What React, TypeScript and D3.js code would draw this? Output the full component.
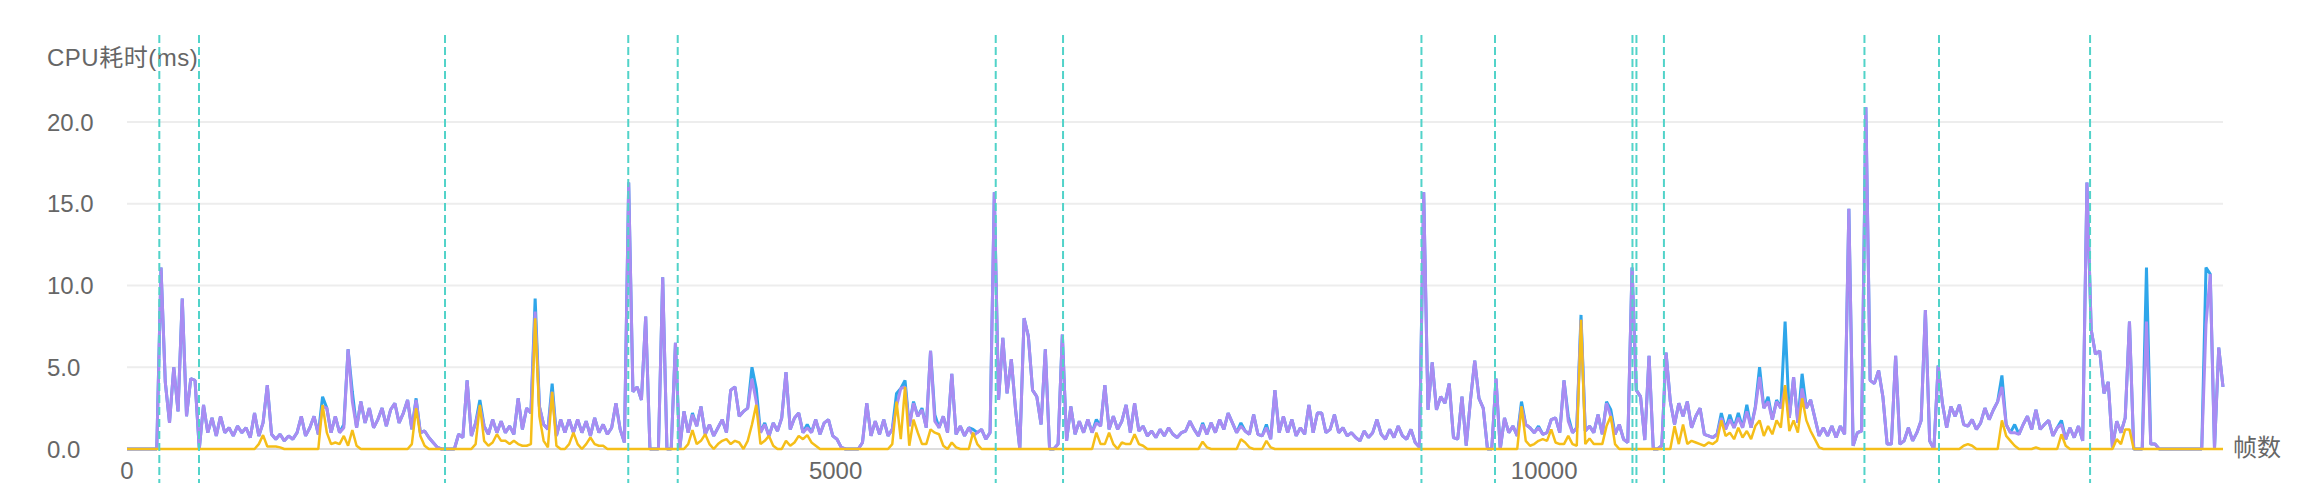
import React from 'react';
import * as d3 from 'd3';

// frame step between consecutive samples
const FRAME_STEP = 30;

// purple series (CPU time, ms), one value every FRAME_STEP frames
const purpleValues: number[] = [
  0, 0, 0, 0, 0, 0, 0, 0, 11.1, 4.1,
  1.6, 5.0, 2.3, 9.2, 2.0, 4.3, 4.2, 0, 2.7, 1.0,
  1.9, 0.8, 2.0, 1.0, 1.3, 0.8, 1.4, 1.0, 1.3, 0.7,
  2.2, 0.8, 1.6, 3.9, 0.9, 0.6, 0.9, 0.5, 0.8, 0.6,
  1.0, 2.0, 0.8, 1.3, 2.0, 0.9, 2.6, 2.5, 1.0, 2.0,
  1.0, 1.3, 6.1, 2.9, 1.3, 2.9, 1.6, 2.5, 1.3, 1.8,
  2.5, 1.4, 2.4, 2.8, 1.6, 2.2, 3.0, 1.2, 3.0, 1.0,
  1.1, 0.7, 0.4, 0.1, 0, 0, 0, 0, 0.9, 0.7,
  4.2, 0.8, 1.6, 2.6, 1.4, 0.9, 1.8, 1.0, 1.7, 1.0,
  1.4, 0.9, 3.1, 1.2, 2.5, 2.2, 8.4, 2.6, 1.5, 1.2,
  3.5, 0.8, 1.8, 1.0, 1.8, 1.0, 1.8, 1.0, 1.7, 0.8,
  1.9, 1.0, 1.5, 0.9, 1.3, 2.8, 1.2, 0.4, 16.3, 3.5,
  3.8, 3.0, 8.1, 0, 0, 0, 10.5, 0, 0, 6.5,
  0, 2.3, 1.0, 2.1, 1.4, 2.6, 0.9, 1.5, 0.8, 1.3,
  1.8, 1.0, 3.6, 3.8, 2.0, 2.3, 2.5, 4.3, 2.9, 1.0,
  1.5, 0.8, 1.6, 1.1, 1.9, 4.7, 1.2, 1.9, 2.2, 1.0,
  1.3, 1.0, 1.8, 0.9, 1.6, 1.8, 0.8, 0.6, 0.1, 0,
  0, 0, 0, 0.4, 2.8, 0.8, 1.7, 0.9, 1.8, 0.8,
  1.2, 2.6, 3.7, 3.8, 1.4, 2.8, 2.0, 2.4, 1.3, 6.0,
  1.7, 1.3, 2.0, 1.0, 4.6, 0.9, 1.4, 0.8, 1.3, 0.8,
  1.0, 1.2, 0.6, 1.0, 15.7, 3.0, 6.8, 3.4, 5.5, 2.4,
  0, 8.0, 6.9, 3.6, 3.2, 1.5, 6.1, 0, 0, 0.3,
  7.0, 0.5, 2.6, 0.9, 1.7, 1.0, 1.8, 1.0, 1.6, 1.4,
  3.9, 1.2, 2.0, 1.2, 1.7, 2.7, 1.0, 2.8, 1.1, 1.4,
  0.8, 1.1, 0.7, 1.2, 0.8, 1.3, 0.9, 0.7, 1.0, 1.1,
  1.7, 1.2, 0.8, 1.5, 0.9, 1.6, 1.0, 1.8, 1.2, 2.2,
  1.6, 1.0, 1.4, 1.1, 0.9, 2.1, 0.9, 0.8, 1.3, 0.6,
  3.6, 1.0, 2.0, 1.0, 1.8, 0.8, 1.3, 0.9, 2.7, 1.0,
  2.2, 2.2, 1.0, 1.2, 2.1, 1.0, 1.3, 0.8, 1.0, 0.7,
  0.5, 1.1, 0.7, 1.0, 1.8, 0.9, 0.6, 1.2, 0.7, 1.4,
  0.8, 0.6, 1.2, 0.4, 0.1, 15.7, 2.4, 5.3, 2.4, 3.2,
  2.8, 4.0, 0.7, 0.6, 3.2, 0.2, 3.0, 5.4, 3.1, 2.5,
  0, 0, 4.3, 0, 1.9, 1.0, 1.4, 0.8, 2.6, 1.5,
  1.3, 1.0, 1.3, 0.9, 1.0, 1.8, 1.9, 1.0, 4.2, 1.7,
  1.0, 1.3, 7.9, 1.1, 1.4, 1.0, 2.1, 0.9, 2.8, 2.0,
  0.9, 1.5, 0.6, 0.4, 11.1, 3.6, 3.2, 0.55, 5.7, 0,
  0, 0.2, 5.9, 2.9, 1.5, 2.8, 2.0, 2.9, 1.3, 2.0,
  2.5, 0.9, 0.8, 0.7, 0.9, 1.9, 1.2, 1.8, 1.3, 1.9,
  1.3, 2.3, 1.3, 2.5, 4.4, 2.5, 2.9, 1.8, 2.9, 2.5,
  3.8, 1.9, 4.4, 1.6, 3.7, 2.5, 3.0, 1.9, 0.8, 1.3,
  0.8, 1.4, 0.7, 1.4, 0.9, 14.7, 0.2, 1.0, 1.1, 20.9,
  4.2, 4.0, 4.8, 3.2, 0.3, 0.3, 5.7, 0.3, 0.5, 1.3,
  0.5, 1.0, 1.75, 8.5, 0.5, 0, 5.1, 2.8, 1.3, 2.6,
  2.0, 2.7, 1.5, 1.4, 1.8, 1.2, 1.6, 2.5, 1.8, 2.4,
  2.9, 3.8, 1.5, 1.0, 1.0, 0.9, 1.5, 2.0, 1.2, 2.4,
  1.2, 1.5, 1.75, 0.8, 1.3, 1.5, 0.6, 1.3, 0.7, 1.4,
  0.5, 16.3, 7.3, 5.8, 6.0, 3.4, 4.1, 0.1, 1.7, 1.0,
  1.9, 7.8, 0, 0, 0, 7.8, 0.3, 0.3, 0, 0,
  0, 0, 0, 0, 0, 0, 0, 0, 0, 7.6,
  10.7, 0, 6.2, 3.8,
];

// yellow series
const yellowValues: number[] = [
  0, 0, 0, 0, 0, 0, 0, 0, 0, 0,
  0, 0, 0, 0, 0, 0, 0, 0, 0, 0,
  0, 0, 0, 0, 0, 0, 0, 0, 0, 0,
  0, 0.3, 0.85, 0.15, 0.15, 0.15, 0.1, 0, 0, 0,
  0, 0, 0, 0, 0, 0, 2.7, 1.0, 0.3, 0.4,
  0.3, 0.8, 0.2, 1.15, 0.2, 0, 0, 0, 0, 0,
  0, 0, 0, 0, 0, 0, 0, 0.3, 2.5, 0.8,
  0.2, 0, 0, 0, 0, 0, 0, 0, 0, 0,
  0, 0, 0.3, 2.7, 0.5, 0.2, 0.4, 0.9, 0.5, 0.5,
  0.3, 0.5, 0.3, 0.2, 0.2, 0.3, 8.0, 2.0, 0.5, 0.1,
  3.5, 0.2, 0, 0, 0.3, 1.0, 0.3, 0, 0.3, 0.7,
  0.3, 0.2, 0.2, 0, 0, 0, 0, 0, 0, 0,
  0, 0, 0, 0, 0, 0, 0, 0, 0, 0,
  0, 0, 0.3, 1.15, 0.3, 0.5, 0.9, 0.3, 0, 0.3,
  0.5, 0.6, 0.3, 0.5, 0.4, 0, 0.5, 1.5, 2.7, 0.3,
  0.5, 0.8, 0.2, 0, 0, 0.5, 0.2, 0.4, 0.8, 0.6,
  0.85, 0.4, 0.2, 0, 0, 0, 0, 0, 0, 0,
  0, 0, 0, 0, 0, 0, 0, 0, 0, 0,
  0.3, 2.9, 0.6, 3.8, 0.2, 1.8, 1.0, 0.3, 0.3, 1.2,
  1.0, 0.9, 0.2, 0, 0.4, 0.1, 0, 0, 0, 1.0,
  0.3, 0, 0, 0, 0, 0, 0, 0, 0, 0,
  0, 0, 0, 0, 0, 0, 0, 0, 0, 0,
  0, 0, 0, 0, 0, 0, 0, 0, 1.0, 0.3,
  0.3, 1.0, 0.3, 0, 0.4, 0.3, 0.3, 0.9, 0.3, 0.2,
  0, 0, 0, 0, 0, 0, 0, 0, 0, 0,
  0, 0, 0, 0.45, 0.1, 0, 0, 0, 0, 0,
  0, 0, 0.6, 0.4, 0.1, 0, 0, 0, 0.5, 0.1,
  0, 0, 0, 0, 0, 0, 0, 0, 0, 0,
  0, 0, 0, 0, 0, 0, 0, 0, 0, 0,
  0, 0, 0, 0, 0, 0, 0, 0, 0, 0,
  0, 0, 0, 0, 0, 0, 0, 0, 0, 0,
  0, 0, 0, 0, 0, 0, 0, 0, 0, 0,
  0, 0, 0, 0, 0, 0, 0, 0, 2.6, 0.5,
  0.2, 0.3, 0.5, 0.6, 0.5, 1.2, 0.4, 0.3, 0.3, 0.8,
  0.3, 0.2, 7.9, 0.3, 0.65, 0.3, 0.3, 0.3, 1.4, 2.0,
  0.3, 0, 0, 0, 0, 0, 0, 0, 0, 0,
  0, 0, 0, 0, 1.4, 0.3, 1.5, 0.3, 0.5, 0.4,
  0.3, 0.2, 0.4, 0.3, 0.5, 1.75, 0.8, 1.0, 0.6, 1.3,
  0.7, 1.1, 0.6, 1.4, 1.75, 0.8, 1.4, 0.9, 1.75, 1.3,
  3.9, 1.1, 1.75, 1.0, 3.1, 1.75, 1.1, 0.6, 0.1, 0,
  0, 0, 0, 0, 0, 0, 0, 0, 0, 0,
  0, 0, 0, 0, 0, 0, 0, 0, 0, 0,
  0, 0, 0, 0, 0, 0, 0, 0, 0, 0,
  0, 0, 0.2, 0.3, 0.2, 0, 0, 0, 0, 0,
  0, 1.75, 0.8, 0.5, 0.2, 0, 0, 0, 0, 0.1,
  0, 0, 0, 0, 0, 0.9, 0.2, 0, 0, 0,
  0, 0, 0, 0, 0, 0, 0, 0, 0.6, 0.3,
  1.2, 1.2, 0, 0, 0, 0, 0, 0, 0, 0,
  0, 0, 0, 0, 0, 0, 0, 0, 0, 0,
  0, 0, 0, 0,
];

// blue series: samples where it rises above the purple one [sample index, value]
const blueAbovePurple: [number, number][] = [
  [46, 3.2], [51, 1.5], [53, 3.5], [68, 3.1], [83, 3.0], [96, 9.2], [100, 4.0],
  [133, 2.2], [147, 5.0], [148, 3.7], [150, 1.6], [160, 1.5], [181, 3.4], [183, 4.2],
  [185, 2.9], [187, 2.5], [190, 2.1], [199, 1.2], [228, 1.8], [253, 1.6], [262, 1.6],
  [268, 1.5], [328, 2.9], [332, 1.4], [339, 2.0], [342, 8.2], [348, 2.9], [349, 2.4],
  [375, 2.2], [377, 2.1], [379, 2.2], [381, 2.7], [383, 2.6], [384, 5.0], [386, 3.2],
  [388, 3.0], [390, 7.8], [394, 4.6], [441, 4.5], [444, 1.5], [455, 1.75], [475, 11.1],
  [489, 11.1],
];

// vertical dashed markers (frame numbers)
const markerFrames = [228, 508, 2244, 3537, 3886, 6130, 6605, 9134, 9653, 10623, 10651, 10845, 12260, 12786, 13852];

const yTicks = [0, 5, 10, 15, 20];
const xTicks = [0, 5000, 10000];

const yAxisName = 'CPU耗时(ms)';
const xAxisName = '帧数';

const COLORS = {
  purple: '#a98cf2',
  blue: '#2ea6ea',
  yellow: '#f5be19',
  marker: '#52d3c9',
  grid: '#ededed',
  axis: '#dddddd',
  text: '#666666',
};

const FONT = "'Liberation Sans', Arial, 'Noto Sans CJK SC', sans-serif";

export default function App() {
  const W = 2315;
  const H = 489;
  const left = 127;
  const right = 2223;
  const lastFrame = (purpleValues.length - 1) * FRAME_STEP;

  const x = d3.scaleLinear().domain([0, lastFrame]).range([left, right]);
  const y = d3.scaleLinear().domain([0, 20]).range([449, 122]);

  const blueMap = new Map(blueAbovePurple);
  const blueValues = purpleValues.map((v, i) => (blueMap.has(i) ? (blueMap.get(i) as number) : v));

  const line = d3
    .line<number>()
    .x((_, i) => x(i * FRAME_STEP))
    .y((d) => y(d));

  return (
    <svg
      width={W}
      height={H}
      style={{ position: 'absolute', left: 0, top: 0, display: 'block', background: '#fff' }}
    >
      {yTicks.map((t) => (
        <line key={'g' + t} x1={left} x2={right} y1={y(t)} y2={y(t)} stroke={COLORS.grid} strokeWidth={2} />
      ))}
      <line x1={left} x2={right} y1={y(0)} y2={y(0)} stroke={COLORS.axis} strokeWidth={2} />

      {yTicks.map((t) => (
        <text key={'yl' + t} x={47} y={y(t) + 8.5} fontSize={24} fill={COLORS.text} fontFamily={FONT}>
          {t.toFixed(1)}
        </text>
      ))}
      {xTicks.map((t) => (
        <text
          key={'xl' + t}
          x={x(t)}
          y={479}
          fontSize={24}
          fill={COLORS.text}
          fontFamily={FONT}
          textAnchor="middle"
        >
          {t}
        </text>
      ))}

      <text x={47} y={66} fontSize={24} fill={COLORS.text} fontFamily={FONT} letterSpacing={0.5}>
        {yAxisName}
      </text>
      <text x={2233} y={456} fontSize={24} fill={COLORS.text} fontFamily={FONT}>
        {xAxisName}
      </text>

      <path d={line(blueValues) || ''} fill="none" stroke={COLORS.blue} strokeWidth={3} strokeLinejoin="bevel" />
      <path d={line(purpleValues) || ''} fill="none" stroke={COLORS.purple} strokeWidth={3} strokeLinejoin="bevel" />
      <path d={line(yellowValues) || ''} fill="none" stroke={COLORS.yellow} strokeWidth={2.5} strokeLinejoin="bevel" />

      {markerFrames.map((f) => (
        <line
          key={'m' + f}
          x1={x(f)}
          x2={x(f)}
          y1={35}
          y2={483}
          stroke={COLORS.marker}
          strokeWidth={2}
          strokeDasharray="8 4"
        />
      ))}
    </svg>
  );
}
